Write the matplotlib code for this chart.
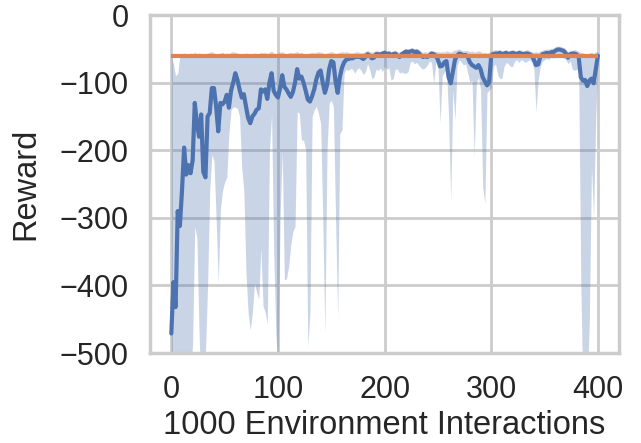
import matplotlib
matplotlib.use("Agg")
import matplotlib.pyplot as plt
import seaborn as sns
import numpy as np

# ---- data ----
interactions = list(range(0, 401, 2))  # 1000 environment interactions

mean_reward = [
    -471, -395, -432, -290, -312, -260, -196, -236, -222, -234,
    -215, -130, -160, -180, -147, -232, -240, -150, -145, -108,
    -108, -135, -172, -130, -132, -128, -118, -137, -112, -100,
    -86, -96, -110, -122, -117, -135, -152, -160, -150, -146,
    -140, -138, -110, -113, -110, -124, -100, -86, -112, -118,
    -122, -108, -89, -106, -110, -116, -121, -114, -100, -80,
    -94, -91, -100, -112, -125, -128, -120, -110, -95, -85,
    -82, -100, -115, -104, -80, -68, -70, -98, -115, -92,
    -78, -70, -66, -65, -64, -64, -62, -62, -61,
    # 178 ..
    -63, -65, -62, -58, -60, -64, -63, -58, -58, -59,
    -57, -56, -58, -57, -59, -58, -57, -60, -62, -58,
    -56, -54, -55, -54, -53, -55, -54, -56, -60, -62,
    -61, -62, -60, -57, -58, -60, -66, -76, -75, -70,
    -68, -92, -101, -84, -66, -60, -57, -58, -60, -59,
    -62, -70, -74, -76, -78, -74, -80, -92, -98, -104,
    -100, -60, -58, -57, -57, -56, -58, -57, -56, -58,
    -57, -56, -57, -58, -56, -57, -58, -57, -57, -58,
    -60, -66, -74, -73, -62, -58, -57, -56, -57, -55,
    -55, -53, -51, -51, -52, -53, -57, -63, -58, -57,
    -57, -58, -62, -92, -97, -96, -105, -97, -94, -101,
    -80, -60,
]

lower_reward = [
    -560, -560, -560, -560, -560, -560, -560, -560, -560, -560,
    -480, -313, -330, -470, -560, -560, -500, -400, -260, -207,
    -215, -300, -397, -288, -260, -247, -240, -175, -140, -136,
    -136, -138, -150, -225, -260, -380, -440, -466, -440, -397,
    -410, -420, -345, -430, -440, -456, -200, -148, -350, -470,
    -520, -300, -200, -392, -390, -372, -340, -320, -313, -143,
    -145, -185, -185, -200, -490, -440, -150, -140, -135, -145,
    -160, -300, -471, -200, -130, -126, -135, -300, -446, -175,
    -170, -86,
    # 164 ..
    -80, -82, -79, -80, -86, -80, -78, -82, -88, -84,
    -72, -80, -94, -92, -80, -82, -78, -84, -76, -80,
    -78, -96, -94, -80, -80, -86, -84, -86, -86, -84,
    -70, -68, -72, -70, -74, -78, -80, -78, -74, -68,
    -70, -101, -70, -72, -160, -90, -84, -80, -150, -274,
    -110, -155, -75, -66, -70, -74, -72, -86, -100, -96,
    -210, -101, -92, -110, -254, -279, -115, -111, -108, -76,
    -72, -88, -94, -94, -76, -70, -72, -76, -76, -68,
    -66, -70, -66, -68, -70, -68, -66, -70, -80, -143,
    -96, -76, -68, -66, -64, -66, -62, -64, -62, -60,
    -60, -62, -64, -66, -72, -68, -80, -82, -80, -84,
    -400, -560, -560, -560, -450, -225, -300, -150, -70,
]

upper_reward = [
    -62, -72, -90, -86, -60, -57, -56, -57, -58, -56,
    -57, -55, -57, -56, -57, -58, -57, -56, -55, -54,
    -56, -57, -58, -56, -55, -57, -56, -57, -55, -54,
    -55, -56, -57, -58, -57, -56, -57, -58, -57, -56,
    -57, -57, -55, -56, -55, -57, -55, -53, -56, -57,
    -56, -55, -54, -56, -57, -56, -55, -56, -55, -54,
    -56, -55, -57, -58, -57, -56, -55, -56, -55, -54,
    -55, -56, -57, -56, -55, -54, -55, -57, -56, -55,
    -54, -55, -54, -55, -56,
    # 170 ..
    -56, -55, -54, -55, -56, -55, -54, -52, -54, -55,
    -54, -52, -53, -54, -52, -51, -53, -52, -54, -53,
    -52, -54, -55, -53, -51, -49, -50, -49, -48, -50,
    -49, -51, -54, -55, -54, -55, -53, -52, -53, -54,
    -54, -55, -54, -55, -53, -54, -55, -53, -52, -51,
    -50, -52, -53, -52, -53, -54, -53, -55, -54, -53,
    -54, -56, -55, -56, -55, -53, -52, -51, -52, -51,
    -53, -52, -51, -53, -52, -51, -52, -53, -51, -52,
    -53, -52, -51, -53, -54, -55, -54, -55, -53, -52,
    -51, -50, -51, -49, -49, -47, -46, -46, -47, -48,
    -51, -54, -52, -52, -51, -52, -54, -55, -56, -57,
    -58, -56, -55, -57, -54, -55,
]

baseline_reward = -60

x_ticks = [0, 100, 200, 300, 400]
y_ticks = [0, -100, -200, -300, -400, -500]

# ---- style ----
sns.set_theme(style="whitegrid", context="poster")
plt.rcParams['font.family'] = ['Liberation Sans', 'DejaVu Sans']

blue = "#4c72b0"
orange = "#dd8452"

fig, ax = plt.subplots(figsize=(6.41, 4.43), dpi=100)
fig.subplots_adjust(left=0.234, right=0.966, top=0.966, bottom=0.203)

x = np.array(interactions, dtype=float)
ax.fill_between(x, np.array(lower_reward, float), np.array(upper_reward, float),
                color=blue, alpha=0.3, linewidth=0)
ax.plot(x, mean_reward, color=blue, lw=3)
ax.hlines(baseline_reward, x[0], x[-1], color=orange, lw=3)

ax.set_xlim(-20, 420)
ax.set_ylim(-500, 0)
ax.set_xticks(x_ticks)
ax.set_yticks(y_ticks)
ax.set_xlabel("1000 Environment Interactions", fontsize=23.5)
ax.set_ylabel("Reward", fontsize=23.5, labelpad=13)

fig.savefig("out.png", dpi=100)
